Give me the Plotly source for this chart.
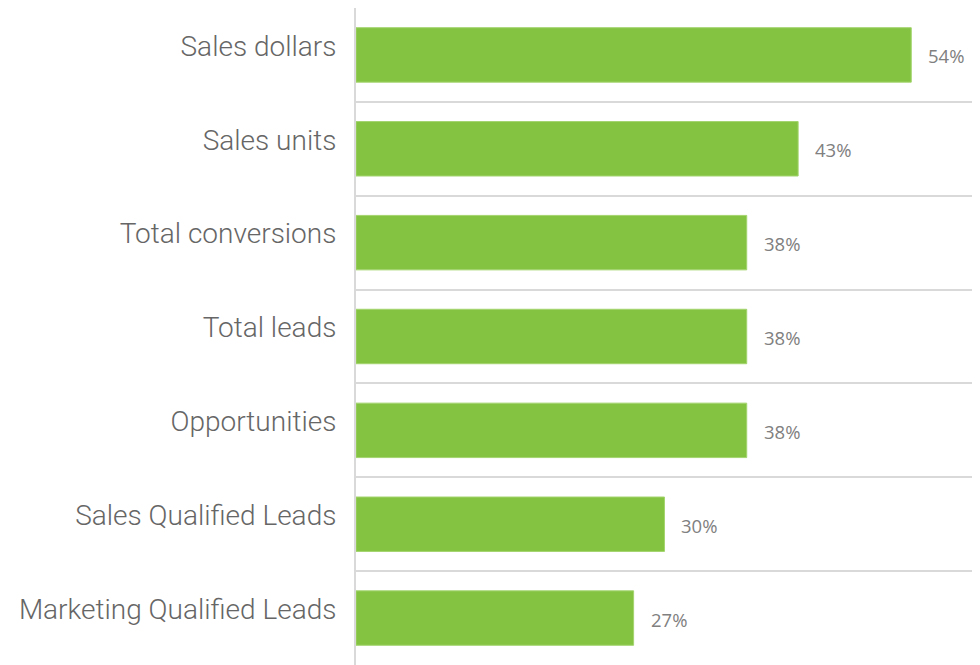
import plotly.graph_objects as go

categories = ["Sales dollars", "Sales units", "Total conversions", "Total leads",
              "Opportunities", "Sales Qualified Leads", "Marketing Qualified Leads"]
values = [54, 43, 38, 38, 38, 30, 27]
value_labels = ["54%", "43%", "38%", "38%", "38%", "30%", "27%"]

bar_color = "#84c341"
grid_color = "#d9d9d9"
label_color = "#666666"
value_color = "#808080"

fig = go.Figure()
fig.add_trace(go.Bar(
    x=values, y=categories, orientation="h",
    marker=dict(color=bar_color, line=dict(color="#a3d46e", width=1)),
    hoverinfo="x+y", width=0.58,
))

for c, v, t in zip(categories, values, value_labels):
    fig.add_annotation(x=v, y=c, text=t, showarrow=False, xanchor="left",
                       xshift=15, yshift=-1,
                       font=dict(family="Open Sans", size=18.5, color=value_color))

# the page body adds an 8px offset, so margins are trimmed to compensate
fig.update_layout(
    width=980, height=665,
    margin=dict(l=348, r=13, t=0, b=8),
    paper_bgcolor="white", plot_bgcolor="white",
    showlegend=False,
)
fig.update_xaxes(range=[0, 60.2], showgrid=False, zeroline=False,
                 showticklabels=False, showline=False)
fig.update_yaxes(autorange="reversed", tickson="boundaries",
                 showgrid=True, gridcolor=grid_color, gridwidth=1.5,
                 showline=True, linecolor=grid_color, linewidth=2,
                 ticks="", ticklabelstandoff=12, ticklabelshift=9,
                 tickfont=dict(family="Roboto Light, Roboto", size=28,
                               color=label_color, weight=300))

fig.write_html("out.html")
